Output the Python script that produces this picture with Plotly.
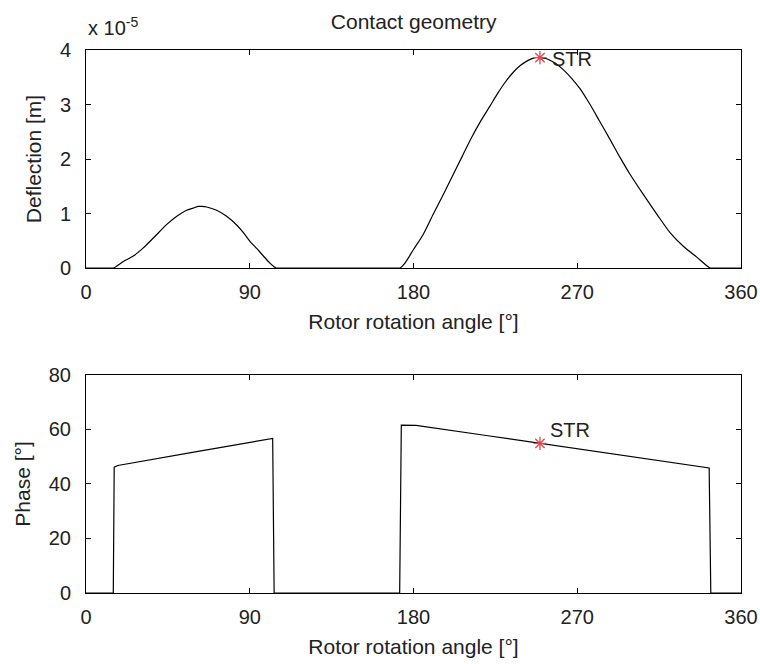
import plotly.graph_objects as go
from plotly.subplots import make_subplots

# Rotor rotation angle [deg] and contact deflection [x 1e-5 m]
defl_angle = [0, 13.0, 15.0, 20.5, 26.0, 31.5, 37.0, 44.4, 49.9, 55.3, 59.0, 61.7, 63.6,
              66.3, 71.8, 77.3, 82.8, 86.5, 90.1, 93.8, 97.5, 101.1, 103.5, 104.5, 106.0,
              170.0, 172.6, 175.3, 180.0, 185.4, 190.9, 196.4, 201.9, 206.5, 212.0,
              217.0, 222.0, 226.0, 230.0, 234.0, 238.5, 243.0, 246.8, 249.5, 253.2,
              257.8, 262.3, 266.9, 271.5, 275.2, 278.8, 282.0, 288.0, 293.5, 299.0,
              306.3, 313.7, 321.0, 328.3, 335.7, 343.0, 345.0, 360]
defl_val = [0, 0, 0, 0.12, 0.22, 0.37, 0.55, 0.80, 0.95, 1.06, 1.10, 1.13, 1.13,
            1.12, 1.06, 0.95, 0.79, 0.65, 0.49, 0.36, 0.22, 0.09, 0.02, 0, 0,
            0, 0, 0.09, 0.34, 0.62, 0.99, 1.35, 1.72, 2.03, 2.40,
            2.70, 2.97, 3.19, 3.39, 3.56, 3.71, 3.81, 3.86, 3.86, 3.84,
            3.76, 3.64, 3.48, 3.29, 3.10, 2.90, 2.71, 2.36, 2.03, 1.72,
            1.35, 0.99, 0.65, 0.40, 0.20, 0.0, 0, 0]

# Contact phase [deg]
phase_angle = [0, 15.0, 15.5, 17.5, 60.0, 102.6, 103.4,
               172.4, 173.3, 181.4, 220.0, 249.6, 290.0, 342.5, 343.4, 360]
phase_val = [0, 0, 46.2, 46.8, 51.8, 56.7, 0,
             0, 61.6, 61.5, 57.8, 54.9, 51.0, 45.9, 0, 0]

# Start-of-rotation (STR) point
str_angle = 249.5
str_defl = 3.86
str_phase = 54.9

x_ticks = [0, 90, 180, 270, 360]
font_family = "Liberation Sans, Arial, sans-serif"
text_color = "#222222"
star_color = "#f0404a"

fig = make_subplots(rows=2, cols=1, vertical_spacing=0.197)

fig.add_trace(go.Scatter(x=defl_angle, y=defl_val, mode="lines",
                         line=dict(color="black", width=1.2, shape="spline",
                                   smoothing=0.8),
                         showlegend=False), row=1, col=1)
fig.add_trace(go.Scatter(x=[str_angle], y=[str_defl], mode="markers",
                         marker=dict(symbol="asterisk-open", size=11, color=star_color,
                                     line=dict(color=star_color, width=1.3)),
                         showlegend=False), row=1, col=1)

fig.add_trace(go.Scatter(x=phase_angle, y=phase_val, mode="lines",
                         line=dict(color="black", width=1.2), showlegend=False),
              row=2, col=1)
fig.add_trace(go.Scatter(x=[str_angle], y=[str_phase], mode="markers",
                         marker=dict(symbol="asterisk-open", size=11, color=star_color,
                                     line=dict(color=star_color, width=1.3)),
                         showlegend=False), row=2, col=1)

axis_common = dict(showline=True, linecolor="black", linewidth=1, mirror="ticks",
                   ticks="inside", ticklen=5, tickcolor="black", showgrid=False,
                   zeroline=False, automargin=False,
                   tickfont=dict(size=20, color=text_color))

for r in (1, 2):
    fig.update_xaxes(range=[0, 360], tickvals=x_ticks, ticklabelstandoff=6,
                     title=dict(text="Rotor rotation angle [°]", standoff=12,
                                font=dict(size=21, color=text_color)),
                     **axis_common, row=r, col=1)

fig.update_yaxes(range=[0, 4], tickvals=[0, 1, 2, 3, 4], ticklabelstandoff=10,
                 title=dict(text="Deflection [m]", standoff=12,
                            font=dict(size=21, color=text_color)),
                 **axis_common, row=1, col=1)
fig.update_yaxes(range=[0, 80], tickvals=[0, 20, 40, 60, 80], ticklabelstandoff=10,
                 title=dict(text="Phase [°]", standoff=12,
                            font=dict(size=21, color=text_color)),
                 **axis_common, row=2, col=1)

fig.add_annotation(x=str_angle, y=str_defl, xref="x", yref="y", text="STR",
                   showarrow=False, xanchor="left", yanchor="middle", xshift=10,
                   yshift=-1, font=dict(size=20, color=text_color))
fig.add_annotation(x=str_angle, y=str_phase, xref="x2", yref="y2", text="STR",
                   showarrow=False, xanchor="left", yanchor="bottom", xshift=8, yshift=0,
                   font=dict(size=20, color=text_color))

fig.add_annotation(x=0, y=1, xref="x domain", yref="y domain",
                   text="x 10<sup>-5</sup>", showarrow=False,
                   xanchor="left", yanchor="bottom", yshift=9,
                   font=dict(size=20, color=text_color))

fig.update_layout(
    width=760, height=664,
    margin=dict(l=86, r=19, t=50, b=71),
    paper_bgcolor="white", plot_bgcolor="white",
    font=dict(family=font_family, color=text_color),
    title=dict(text="Contact geometry", x=0.5443, xanchor="center",
               y=0.968, yanchor="middle", font=dict(size=21, color=text_color)),
)

fig.write_html("out.html")
